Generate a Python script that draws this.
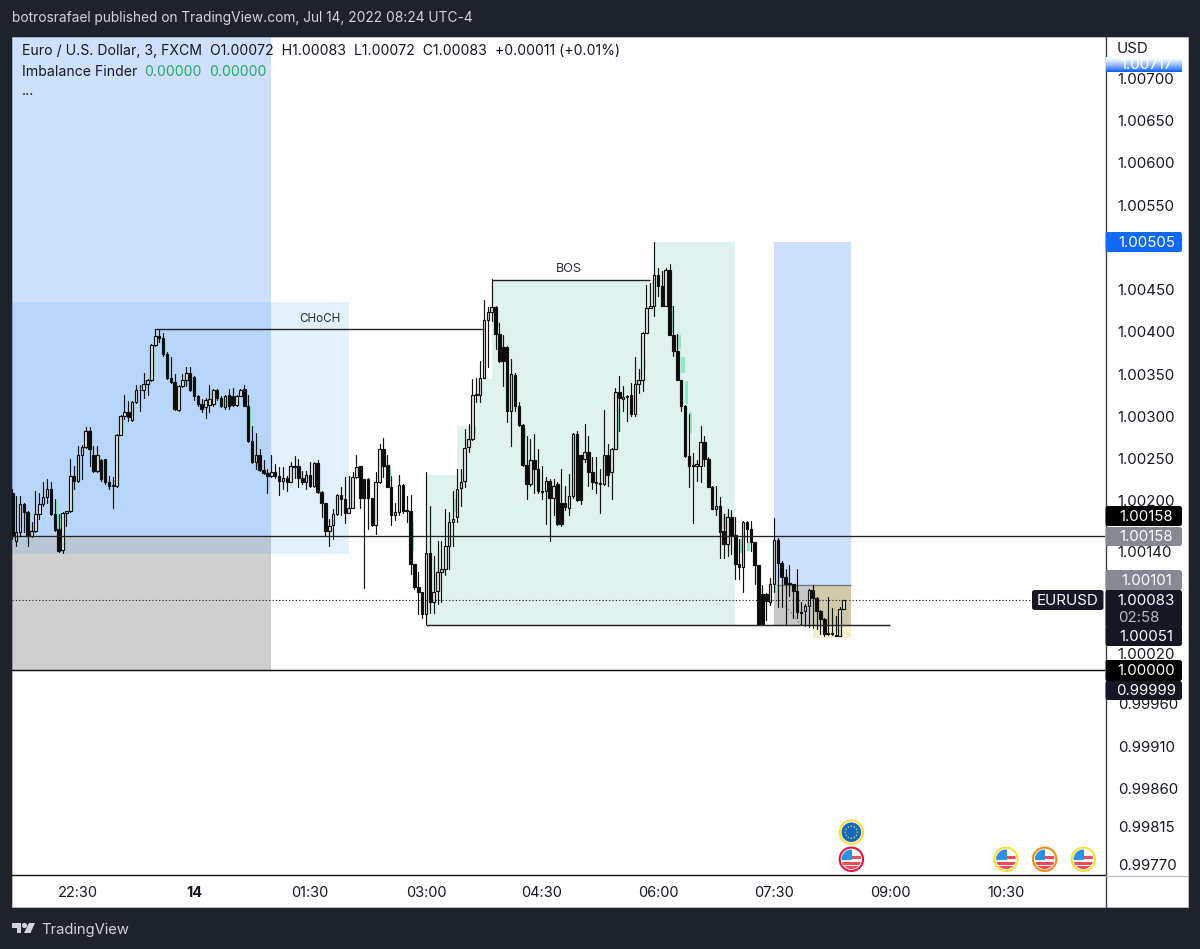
import numpy as np, pandas as pd, seaborn as sns
import matplotlib
matplotlib.use("Agg")
import matplotlib.pyplot as plt
from matplotlib.patches import Rectangle, Circle, Polygon, FancyBboxPatch
from matplotlib.lines import Line2D
from matplotlib.transforms import IdentityTransform

# Values are points above parity (1 point = 0.00001), one entry per 3-minute candle
open_pts = [
 210,153,163,197,187,159,164,185,196,205, 214,185,167,142,186,188,229,224,255,264,
 283,254,236,249,250,222,218,218,278,300, 305,296,317,331,331,338,343,385,395,393,
 374,346,341,308,336,343,352,347,324,315, 311,314,315,331,322,311,325,324,314,324,
 332,313,271,246,254,237,233,230,234,229, 224,227,223,240,241,227,223,231,218,245,
 211,198,164,172,185,207,202,186,192,228, 241,226,226,203,172,222,262,243,217,183,
 187,219,188,188,126,98,92,66,139,80, 93,116,120,147,175,181,215,224,264,273,
 325,325,346,414,424,429,398,382,382,307, 349,313,290,243,220,248,238,212,212,224,
 204,220,198,198,192,206,279,254,250,258, 234,223,221,220,254,234,262,329,321,324,
 325,303,339,343,399,428,431,468,454,431, 473,397,378,343,313,253,243,242,242,270,
 250,217,191,194,164,149,181,160,126,122, 175,167,151,124,90,90,81,102,154,127,
 110,103,102,93,69,70,76,95,85,70, 60,44,44,42,40,72]
high_pts = [
 214,206,206,198,188,175,212,210,222,226, 222,202,185,187,188,250,242,265,266,287,
 287,265,265,250,250,230,228,279,302,325, 318,318,337,337,352,344,386,403,403,399,
 376,370,350,337,350,358,358,348,326,321, 322,337,333,332,324,326,332,334,326,333,
 337,325,289,281,261,249,238,254,244,240, 240,230,246,253,250,236,236,246,246,249,
 212,198,179,190,208,217,228,229,234,255, 242,226,227,204,234,267,274,254,229,198,
 231,220,206,207,126,116,92,234,194,135, 153,153,190,187,212,238,238,285,291,344,
 346,366,438,429,463,431,411,397,383,368, 351,317,291,277,273,279,261,242,228,226,
 226,222,238,218,232,281,283,254,291,277, 252,252,238,308,267,263,334,348,336,326,
 340,370,356,400,456,458,506,476,472,476, 480,431,398,343,314,303,257,248,289,277,
 252,218,218,205,185,191,189,181,155,176, 176,176,152,124,101,91,109,180,156,129,
 120,124,102,120,80,78,96,101,86,71, 62,86,73,64,74,83]
low_pts = [
 155,147,159,163,147,157,163,179,194,198, 184,165,140,138,171,187,214,222,226,263,
 242,234,234,224,220,214,192,217,278,297, 295,295,316,307,322,326,342,384,388,372,
 344,340,308,307,335,336,330,320,313,305, 298,305,313,320,311,309,309,312,313,324,
 312,270,245,238,236,232,210,228,227,207, 214,212,222,227,216,220,214,216,216,210,
 181,158,147,155,183,183,174,186,192,227, 192,97,167,171,161,221,228,216,172,177,
 183,186,175,114,96,66,62,55,68,68, 78,80,112,120,147,175,194,216,258,272,
 317,317,345,358,413,380,364,336,293,265, 307,289,242,202,218,210,210,202,173,153,
 183,172,171,189,183,204,200,196,246,218, 214,210,186,219,218,202,261,283,307,295,
 301,301,328,330,399,428,419,443,431,431, 396,371,343,306,252,216,174,224,222,242,
 216,190,183,133,133,135,137,108,108,92, 151,141,102,54,53,59,77,92,74,74,
 54,88,62,61,53,52,51,50,49,43, 40,41,41,40,40,72]
close_pts = [
 159,163,197,187,159,164,185,196,205,214, 185,166,141,186,188,229,224,255,264,283,
 261,236,255,226,222,218,219,278,300,305, 299,317,331,331,338,343,385,395,393,374,
 345,341,309,336,343,352,331,324,315,309, 320,321,331,322,312,324,312,314,324,331,
 313,271,246,254,237,233,230,234,229,224, 227,223,241,241,227,222,231,218,245,211,
 198,164,171,185,207,202,186,192,228,240, 204,204,204,172,222,262,242,217,183,187,
 219,188,189,126,98,92,66,139,80,92, 116,120,147,175,179,214,223,263,273,325,
 327,346,414,424,429,398,366,366,307,350, 313,290,243,220,248,238,212,211,224,204,
 218,173,173,193,206,279,201,201,258,234, 222,221,220,254,231,262,329,322,323,323,
 303,339,343,399,428,431,468,454,431,473, 397,378,343,313,253,242,242,244,270,250,
 217,191,194,163,149,181,160,126,122,175, 167,151,124,54,54,82,102,154,127,110,
 102,102,93,69,68,76,95,85,70,60, 43,43,43,40,72,83]
first_candle = -17            # candle number of the first bar; 22:30 is candle 0

# Imbalance markers: candle, low, high
gap_k    = [-6,-5,-2,10,11,19,22,44,80,86,97,102,108,115,139,146,153,155,156,157,158,167,171,173,180,197]
gap_low  = [185,167,188,226,279,344,376,285,224,141,187,279,407,275,263,356,399,380,352,315,281,167,139,141,92,64]
gap_high = [202,183,212,277,293,374,387,311,242,175,202,289,413,285,313,368,431,397,370,342,305,185,155,151,102,72]

time_ticks  = [0,30,60,90,120,150,180,210,240]
time_labels = ["22:30","14","01:30","03:00","04:30","06:00","07:30","09:00","10:30"]
price_ticks = [1.00700,1.00650,1.00600,1.00550,1.00450,1.00400,1.00350,1.00300,1.00250,1.00200,
               1.00140,1.00020,0.99960,0.99910,0.99860,0.99815,0.99770]

# Zones
blue_left, blue_right, blue_low, blue_high = -18, 50, 158, 760
grey_low, grey_high = 0, 158
choch_zone = (-18, 70, 137, 436)
green_k   = [90, 98, 103, 107, 149, 170]
green_top = [231, 289, 344, 462, 506]
green_low = 53
long_zone = (180, 200, 101, 507)
stop_zone = (180, 200, 53, 101)
imb_zone  = (190, 200, 38, 101)

choch = (20, 105, 403)
bos   = (107, 148, 462)
parity_line, level_line, last_price, low_line = 0, 158, 83, 53
low_line_k = (90, 210)
event_k   = [200, 200, 240, 250, 260]
event_pts = [-192, -224, -224, -224, -224]
event_kind = ["eu", "us", "us", "us", "us"]
event_ring = ["#fbdf3b", "#e2163e", "#fbdf3b", "#f28c13", "#fbdf3b"]

DARK, NAVY = "#1e222d", "#141824"
sns.set_theme(style="white")
plt.rcParams["font.family"] = ["Inter", "DejaVu Sans"]
INK = "#131722"

W, H = 1200, 949
fig = plt.figure(figsize=(W/100, H/100), dpi=100, facecolor=DARK)
ID = IdentityTransform()
def py(y): return H - y

fig.add_artist(Rectangle((12, py(907)), 1176, 870, transform=ID, fc="white", ec="#b8bac0", lw=.7, zorder=-1))
ax = fig.add_axes([12/W, (H-875)/H, 1093/W, 838/H], facecolor="none")

def P(v): return 1 + np.asarray(v, dtype=float)/1e5
def box(z, color, alpha, zo=1):
    ax.add_patch(Rectangle((z[0], P(z[2])), z[1]-z[0], P(z[3])-P(z[2]), fc=color, alpha=alpha, ec="none", zorder=zo))

k = np.arange(first_candle, first_candle + len(close_pts))
o, h, l, c = map(P, (open_pts, high_pts, low_pts, close_pts))

ax.set_xlim(-17.07, 265.6)
ax.set_ylim(P(-242.6), P(749.1))

box((blue_left, blue_right, blue_low, blue_high), "#0f64fa", .2)
box((blue_left, blue_right, grey_low, grey_high), "black", .19)
box(choch_zone, "#2196f3", .13, 1.2)
for i in range(len(green_top)):
    box((green_k[i], green_k[i+1], green_low, green_top[i]), "#e0f2ef", 1, 1)
box(long_zone, "#0f64fa", .2)
box(stop_zone, "black", .22)
box(imb_zone, "#e6d26a", .3, 1.3)
ax.hlines(P(stop_zone[3]), stop_zone[0], stop_zone[1], color="#777a80", lw=1, zorder=2)
ax.plot([183, 187], P([76, 53]), color="#888", lw=.8, ls=(0, (2, 1.5)), zorder=2)

# imbalance markers
ax.bar(np.array(gap_k)+.4, P(gap_high)-P(gap_low), bottom=P(gap_low), width=.95, color="#8fe9c4", lw=0, zorder=2.5)

# wicks
wick = pd.DataFrame({"k": np.repeat(k, 2), "price": np.column_stack([l, h]).ravel()})
sns.lineplot(data=wick, x="k", y="price", units="k", estimator=None, color="#111111", lw=.85, sort=False, ax=ax, zorder=3)
# bodies
top = np.maximum(o, c); bot = np.minimum(o, c)
up = c >= o
ax.bar(k, np.maximum(top-bot, 1e-6), bottom=bot, width=.66, color=np.where(up, "#e6e6e6", "#0a0a0a"),
       edgecolor="#111111", lw=.85, zorder=4)

# levels
ax.axhline(P(level_line), color="#222222", lw=.95, zorder=5)
ax.axhline(P(parity_line), color="#111111", lw=1.05, zorder=5)
ax.hlines(P(last_price), first_candle, 246.7, color=INK, lw=.8, linestyles=(0, (1, 2)), zorder=5)
ax.hlines(P(low_line), *low_line_k, color="#222222", lw=1.05, zorder=5)
ax.hlines(P(choch[2]), choch[0], choch[1], color="#222222", lw=1, zorder=5)
ax.hlines(P(bos[2]), bos[0], bos[1], color="#222222", lw=1, zorder=5)
ax.text(62.5, P(choch[2]+5), "CHoCH", ha="center", va="bottom", fontsize=8.4, color="#2a2e39", zorder=6)
ax.text(127, P(bos[2]+5), "BOS", ha="center", va="bottom", fontsize=9, color="#2a2e39", zorder=6)

# axes
ax.set_xlabel(""); ax.set_ylabel("")
ax.yaxis.tick_right()
ax.set_yticks(price_ticks); ax.set_yticklabels([f"{v:.5f}" for v in price_ticks])
ax.set_xticks(time_ticks); ax.set_xticklabels(time_labels)
ax.tick_params(axis="y", length=0, pad=9.2, labelsize=10.8, labelcolor=INK)
ax.tick_params(axis="x", length=0, pad=8.2, labelsize=10.5, labelcolor=INK)
ax.get_xticklabels()[1].set_fontweight("bold")
for s in ("top", "left", "right"): ax.spines[s].set_visible(False)
ax.spines["bottom"].set_color("#111111"); ax.spines["bottom"].set_linewidth(1)
fig.add_artist(Line2D([1105.5, 1105.5], [py(37), py(907)], transform=ID, color="#3c3f48", lw=1, zorder=2))
fig.add_artist(Line2D([1105, 1188], [py(875.5), py(875.5)], transform=ID, color="#b8bac0", lw=.9, zorder=2))

# price tags
def tag(ytop, ybot, color, x0=1105.5, x1=1182, zo=3):
    fig.add_artist(FancyBboxPatch((x0, py(ybot)), x1-x0, ybot-ytop, boxstyle="round,pad=0,rounding_size=2.5",
                                  transform=ID, fc=color, ec="none", zorder=zo))
def tagtext(x, y, s, color="white", ha="center", zo=6):
    fig.text(x/W, (H-y-1)/H, s, color=color, ha=ha, va="center", fontsize=10.8, zorder=zo)

# fading tag at the top of the scale
for i, yy in enumerate(range(57, 72)):
    f = (i/14)**1.3
    fig.add_artist(Rectangle((1106, py(yy+1)), 76, 1, transform=ID, ec="none", zorder=3,
                             fc=(1-f*(1-.06), 1-f*(1-.38), 1-f*(1-.96))))
tagtext(1146.5, 64, "1.00717")

tag(232, 252, "#1269f5"); tagtext(1146.5, 242, "1.00505")
tag(506, 526, "#000000"); tagtext(1146.5, 516, "1.00158")
tag(527, 546, "#868993"); tagtext(1146.5, 536, "1.00158")
tag(570, 590, "#868993"); tagtext(1146.5, 580, "1.00101")
tag(590, 628, NAVY); tagtext(1146.5, 600, "1.00083"); tagtext(1118, 617, "02:58", "#b8bac2", "left")
tag(626, 646, NAVY); tagtext(1146.5, 636, "1.00051")
tag(660, 681, "#000000", zo=3.1); tagtext(1146.5, 670, "1.00000")
tag(681, 700, NAVY); tagtext(1146.5, 690, "0.99999")
tag(590, 610, NAVY, x0=1032, x1=1103.5); tagtext(1067.5, 600, "EURUSD")
tagtext(1117, 48, "USD", INK, "left")

# event markers
def flag(xc, yc, kind, ring):
    yc = py(yc)
    fig.add_artist(Circle((xc, yc), 11.7, transform=ID, fc="white", ec=ring, lw=1.5, zorder=3))
    disk = Circle((xc, yc), 9.8, transform=ID, fc="#1467c0" if kind == "eu" else "white", ec="none", zorder=3.1)
    fig.add_artist(disk)
    if kind == "eu":
        for a in np.arange(0, 360, 30):
            fig.add_artist(Circle((xc+6*np.cos(np.radians(a)), yc+6*np.sin(np.radians(a))), .8, transform=ID, fc="#d9c948", ec="none", zorder=3.2))
    else:
        for yy, hh, col in [(yc+.5, 3, "#f44a55"), (yc-6, 3.2, "#f44a55"), (yc-10, 3, "#f44a55")]:
            r = Rectangle((xc-10, yy), 20, hh, transform=ID, fc=col, ec="none", zorder=3.2)
            fig.add_artist(r); r.set_clip_path(disk)
        r = Rectangle((xc-10, yc-1), 10.5, 11, transform=ID, fc="#2d8fe8", ec="none", zorder=3.3)
        fig.add_artist(r); r.set_clip_path(disk)

for kk, pp, kind, ring in zip(event_k, event_pts, event_kind, event_ring):
    xd, yd = ax.transData.transform((kk, P(pp)))
    flag(xd, H-yd, kind, ring)

# header and legend
LIGHT = "#d1d4dc"
fig.text(12/W, (H-18)/H, "botrosrafael published on TradingView.com, Jul 14, 2022 08:24 UTC-4", color=LIGHT, fontsize=9.9, va="center")
fig.text(22/W, (H-51.5)/H, "Euro / U.S. Dollar, 3, FXCM  O1.00072  H1.00083  L1.00072  C1.00083  +0.00011 (+0.01%)", color=INK, fontsize=10.12, va="center", zorder=6)
fig.text(22/W, (H-72)/H, "Imbalance Finder", color=INK, fontsize=10.12, va="center", zorder=6)
fig.text(144/W, (H-72)/H, "0.00000", color="#22ab5e", fontsize=10.12, va="center", zorder=6)
fig.text(209/W, (H-72)/H, "0.00000", color="#22ab5e", fontsize=10.12, va="center", zorder=6)
fig.text(22/W, (H-91)/H, "...", color=INK, fontsize=10.12, va="center", zorder=6)

# TradingView logo and name
fig.add_artist(Polygon([(12, py(923)), (21, py(923)), (21, py(933)), (17, py(933)), (17, py(928)), (12, py(928))], transform=ID, fc=LIGHT, ec="none"))
fig.add_artist(Circle((24.5, py(925.5)), 2.6, transform=ID, fc=LIGHT, ec="none"))
fig.add_artist(Polygon([(29, py(923)), (35, py(923)), (30.5, py(933)), (24, py(933))], transform=ID, fc=LIGHT, ec="none"))
fig.text(41/W, (H-930)/H, "TradingView", color=LIGHT, fontsize=10.6, va="center")

fig.savefig("out.png", dpi=100, facecolor=DARK)
